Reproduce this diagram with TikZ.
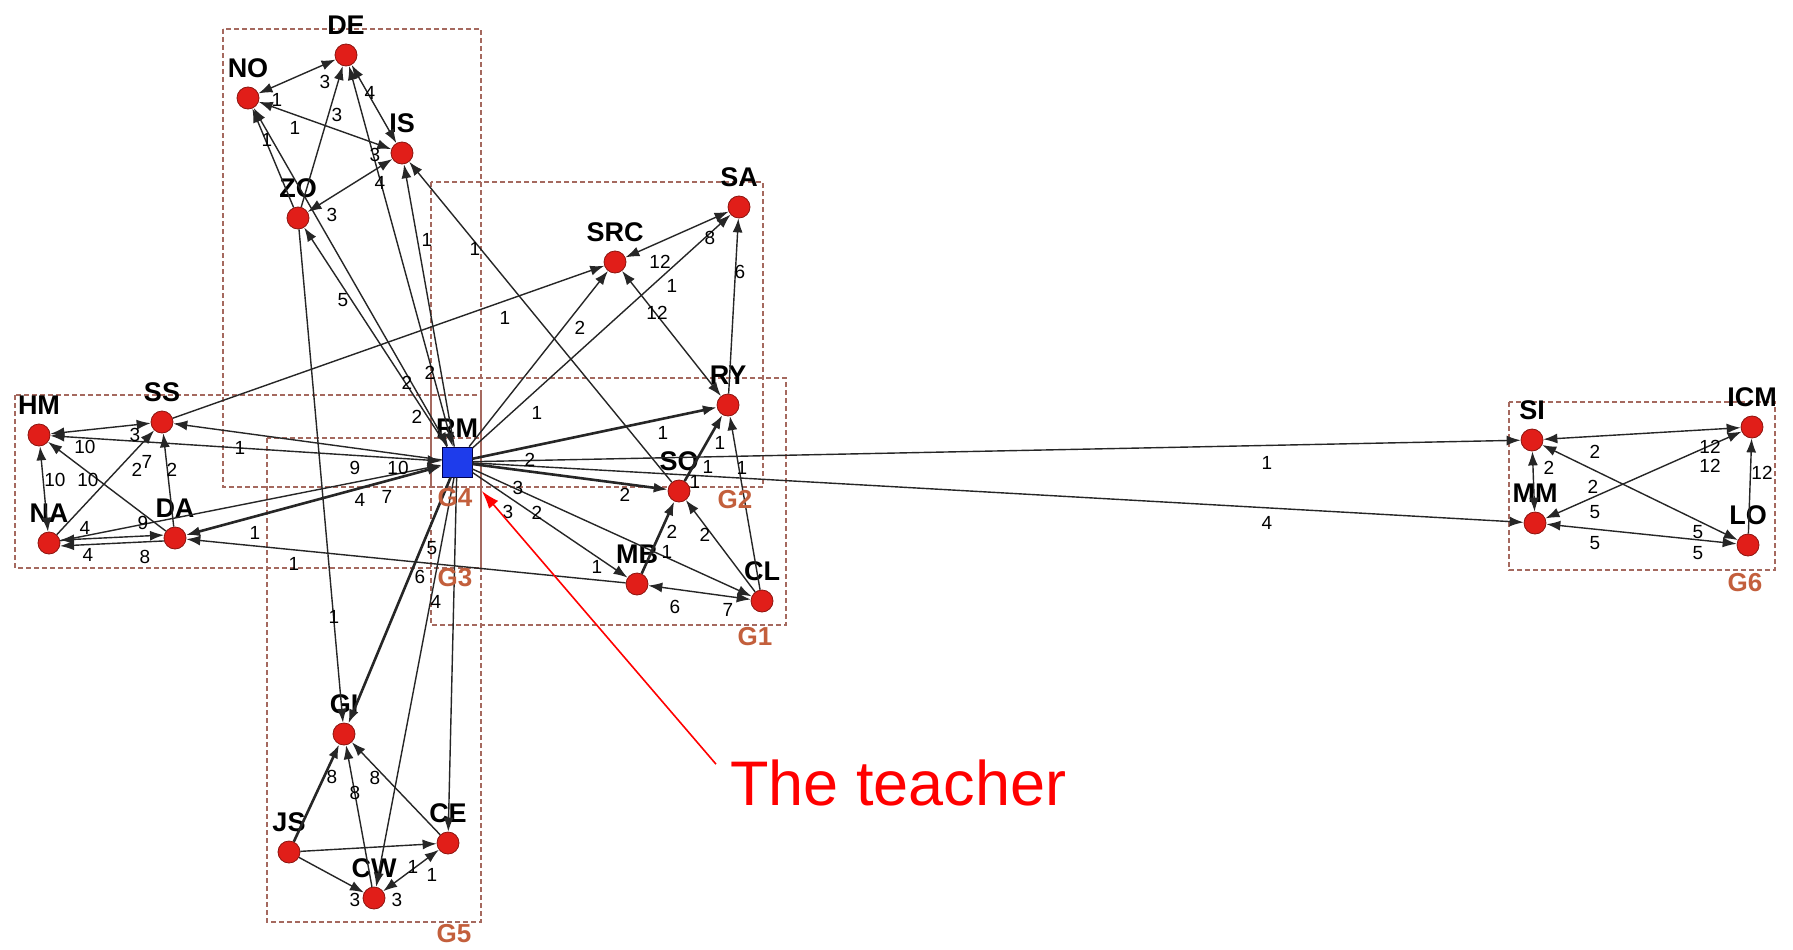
\documentclass[tikz,border=0pt]{standalone}
\usepackage{fontspec}
\setmainfont{Liberation Sans}
\usetikzlibrary{arrows.meta}
\definecolor{nodered}{RGB}{225,30,25}
\definecolor{nodeedge}{RGB}{140,20,15}
\definecolor{rmblue}{RGB}{30,60,235}
\definecolor{boxcol}{RGB}{165,105,95}
\definecolor{grpcol}{RGB}{195,95,60}
\definecolor{teachred}{RGB}{255,0,0}
\newcommand\wl[3]{\node[wlab] at (#1,#2) {#3};}
\begin{document}
\begin{tikzpicture}[x=1pt,y=-1pt,
  nd/.style={circle, fill=nodered, draw=nodeedge, line width=0.8pt, minimum size=22pt, inner sep=0},
  nl/.style={font=\bfseries\fontsize{27}{27}\selectfont, inner sep=0, text=black},
  label distance=9pt,
  e/.style={draw=black!85, line width=1.4pt, -{Latex[length=14pt,width=10pt]}},
  eb/.style={draw=black!85, line width=1.4pt, {Latex[length=14pt,width=10pt]}-{Latex[length=14pt,width=10pt]}},
  ek/.style={e, line width=2.6pt},
  ebk/.style={eb, line width=2.6pt},
  wlab/.style={font=\fontsize{19}{19}\selectfont, inner sep=0},
  grp/.style={draw=boxcol, line width=1.3pt, dash pattern=on 5pt off 3pt},
  gl/.style={font=\bfseries\fontsize{26}{26}\selectfont, text=grpcol, inner sep=0}
]
\useasboundingbox (0,0) rectangle (1793,950);
\fill[white] (0,0) rectangle (1793,950);

% group boxes
\draw[grp] (223,29) rectangle (481,487);
\draw[grp] (431,182) rectangle (763,487);
\draw[grp] (431,378) rectangle (786,625);
\draw[grp] (15,395) rectangle (481,568);
\draw[grp] (267,438) rectangle (481,922);
\draw[grp] (1509,402) rectangle (1775,570);

% nodes
\node[nd,label={[nl]above:DE}] (DE) at (346,55) {};
\node[nd,label={[nl]above:NO}] (NO) at (248,98) {};
\node[nd,label={[nl]above:IS}] (IS) at (402,153) {};
\node[nd,label={[nl]above:ZO}] (ZO) at (298,218) {};
\node[nd,label={[nl]above:SA}] (SA) at (739,207) {};
\node[nd,label={[nl]above:SRC}] (SRC) at (615,262) {};
\node[nd,label={[nl]above:RY}] (RY) at (728,405) {};
\node[nd,label={[nl]above:SO}] (SO) at (679,491) {};
\node[nd,label={[nl]above:MB}] (MB) at (637,584) {};
\node[nd,label={[nl]above:CL}] (CL) at (762,601) {};
\node[draw=black!70!blue, fill=rmblue, minimum size=30pt, inner sep=0, line width=0.8pt, label={[nl]above:RM}] (RM) at (457,462) {};
\node[nd,label={[nl]above:HM}] (HM) at (39,435) {};
\node[nd,label={[nl]above:SS}] (SS) at (162,422) {};
\node[nd,label={[nl]above:NA}] (NA) at (49,543) {};
\node[nd,label={[nl]above:DA}] (DA) at (175,538) {};
\node[nd,label={[nl]above:GI}] (GI) at (344,734) {};
\node[nd,label={[nl]above:JS}] (JS) at (289,852) {};
\node[nd,label={[nl]above:CE}] (CE) at (448,843) {};
\node[nd,label={[nl]above:CW}] (CW) at (374,898) {};
\node[nd,label={[nl]above:SI}] (SI) at (1532,440) {};
\node[nd,label={[nl]above:ICM}] (ICM) at (1752,427) {};
\node[nd,label={[nl]above:MM}] (MM) at (1535,523) {};
\node[nd,label={[nl]above:LO}] (LO) at (1748,545) {};

% G4 edges
\draw[eb] (NO) -- (DE);
\draw[eb] (NO) -- (IS);
\draw[eb] (DE) -- (IS);
\draw[e] (ZO) -- (DE);
\draw[eb] (ZO) -- (IS);
\draw[e] (ZO) -- (NO);
\draw[e] (RM) -- (ZO);
\draw[eb] (RM) -- (NO);
\draw[eb] (RM) -- (DE);
\draw[e] (RM) -- (IS);
\draw[e] (SO) -- (IS);
\draw[e] (ZO) -- (GI);

% G1 / G2 edges
\draw[eb] (SRC) -- (SA);
\draw[e] (RY) -- (SA);
\draw[eb] (RY) -- (SRC);
\draw[e] (RM) -- (SA);
\draw[e] (RM) -- (SRC);
\draw[e] (SS) -- (SRC);
\draw[ek] (RM) -- (RY);
\draw[ek] (RM) -- (SO);
\draw[e] (RM) -- (MB);
\draw[e] (RM) -- (CL);
\draw[eb] (MB) -- (CL);
\draw[ek] (MB) -- (SO);
\draw[e] (CL) -- (SO);
\draw[e] (CL) -- (RY);
\draw[ek] (SO) -- (RY);
\draw[e] (MB) -- (DA);
\draw[e] (RM) -- (SI);
\draw[e] (RM) -- (MM);

% G3 edges
\draw[eb] (HM) -- (SS);
\draw[eb] (NA) -- (HM);
\draw[e] (DA) -- (HM);
\draw[e] (NA) -- (SS);
\draw[e] (DA) -- (SS);
\draw[eb] (NA.15) -- (DA.165);
\draw[e] (DA.-165) -- (NA.-15);
\draw[e] (RM) -- (SS);
\draw[eb] (RM) -- (HM);
\draw[e] (NA) -- (RM);
\draw[ebk] (DA) -- (RM);

% G5 edges
\draw[ek] (JS) -- (GI);
\draw[e] (CW) -- (GI);
\draw[e] (CE) -- (GI);
\draw[e] (JS) -- (CE);
\draw[e] (JS) -- (CW);
\draw[eb] (CW) -- (CE);
\draw[ek] (RM) -- (GI);
\draw[e] (RM) -- (CW);
\draw[e] (RM) -- (CE);

% G6 edges
\draw[eb] (SI) -- (ICM);
\draw[eb] (SI) -- (LO);
\draw[eb] (MM) -- (ICM);
\draw[eb] (MM) -- (LO);
\draw[e] (LO) -- (ICM);
\draw[eb] (MM) -- (SI);

% edge weights G4
\wl{325}{82}{3} \wl{277}{100}{1} \wl{337}{115}{3} \wl{370}{93}{4}
\wl{295}{128}{1} \wl{375}{155}{3} \wl{267}{140}{1} \wl{332}{215}{3}
\wl{380}{183}{4} \wl{427}{240}{1} \wl{343}{300}{5} \wl{407}{383}{2}
\wl{430}{373}{2} \wl{417}{417}{2} \wl{475}{249}{1} \wl{334}{617}{1}
% edge weights G1 / G2
\wl{710}{238}{8} \wl{660}{262}{12} \wl{672}{286}{1} \wl{657}{313}{12}
\wl{740}{272}{6} \wl{580}{328}{2} \wl{505}{318}{1} \wl{537}{413}{1}
\wl{663}{433}{1} \wl{530}{460}{2} \wl{708}{467}{1} \wl{742}{468}{1}
\wl{720}{443}{1} \wl{695}{482}{1} \wl{625}{495}{2} \wl{518}{488}{3}
\wl{508}{512}{3} \wl{537}{513}{2} \wl{672}{532}{2} \wl{705}{535}{2}
\wl{667}{552}{1} \wl{597}{567}{1} \wl{675}{607}{6} \wl{728}{610}{7}
% edge weights G3
\wl{135}{435}{3} \wl{85}{447}{10} \wl{240}{448}{1} \wl{55}{480}{10}
\wl{88}{480}{10} \wl{137}{470}{2} \wl{147}{462}{7} \wl{172}{470}{2}
\wl{85}{528}{4} \wl{143}{523}{9} \wl{88}{555}{4} \wl{145}{557}{8}
\wl{255}{533}{1} \wl{355}{468}{9} \wl{398}{468}{10} \wl{360}{500}{4}
\wl{387}{497}{7} \wl{294}{564}{1}
% edge weights G5
\wl{432}{548}{5} \wl{420}{577}{6} \wl{436}{602}{4} \wl{332}{777}{8}
\wl{355}{793}{8} \wl{375}{778}{8} \wl{355}{900}{3} \wl{397}{900}{3}
\wl{413}{867}{1} \wl{432}{875}{1}
% edge weights G6
\wl{1595}{452}{2} \wl{1710}{447}{12} \wl{1710}{466}{12} \wl{1762}{473}{12}
\wl{1549}{468}{2} \wl{1593}{487}{2} \wl{1595}{512}{5} \wl{1595}{543}{5}
\wl{1698}{532}{5} \wl{1698}{553}{5} \wl{1267}{463}{1} \wl{1267}{523}{4}

% group labels
\node[gl] (G4l) at (455,498) {G4};
\node[gl] (G3l) at (455,578) {G3};
\node[gl] (G2l) at (735,500) {G2};
\node[gl] (G1l) at (755,637) {G1};
\node[gl] (G5l) at (454,934) {G5};
\node[gl] (G6l) at (1745,583) {G6};

% teacher annotation
\node[font=\fontsize{63}{63}\selectfont, text=teachred, anchor=base west, inner sep=0] (teach) at (730,805) {The teacher};
\draw[teachred, line width=1.6pt, -{Latex[length=18pt,width=12pt]}, shorten >=18pt]
  ([xshift=-14pt,yshift=-5pt]teach.north west) -- (RM);
\end{tikzpicture}
\end{document}
